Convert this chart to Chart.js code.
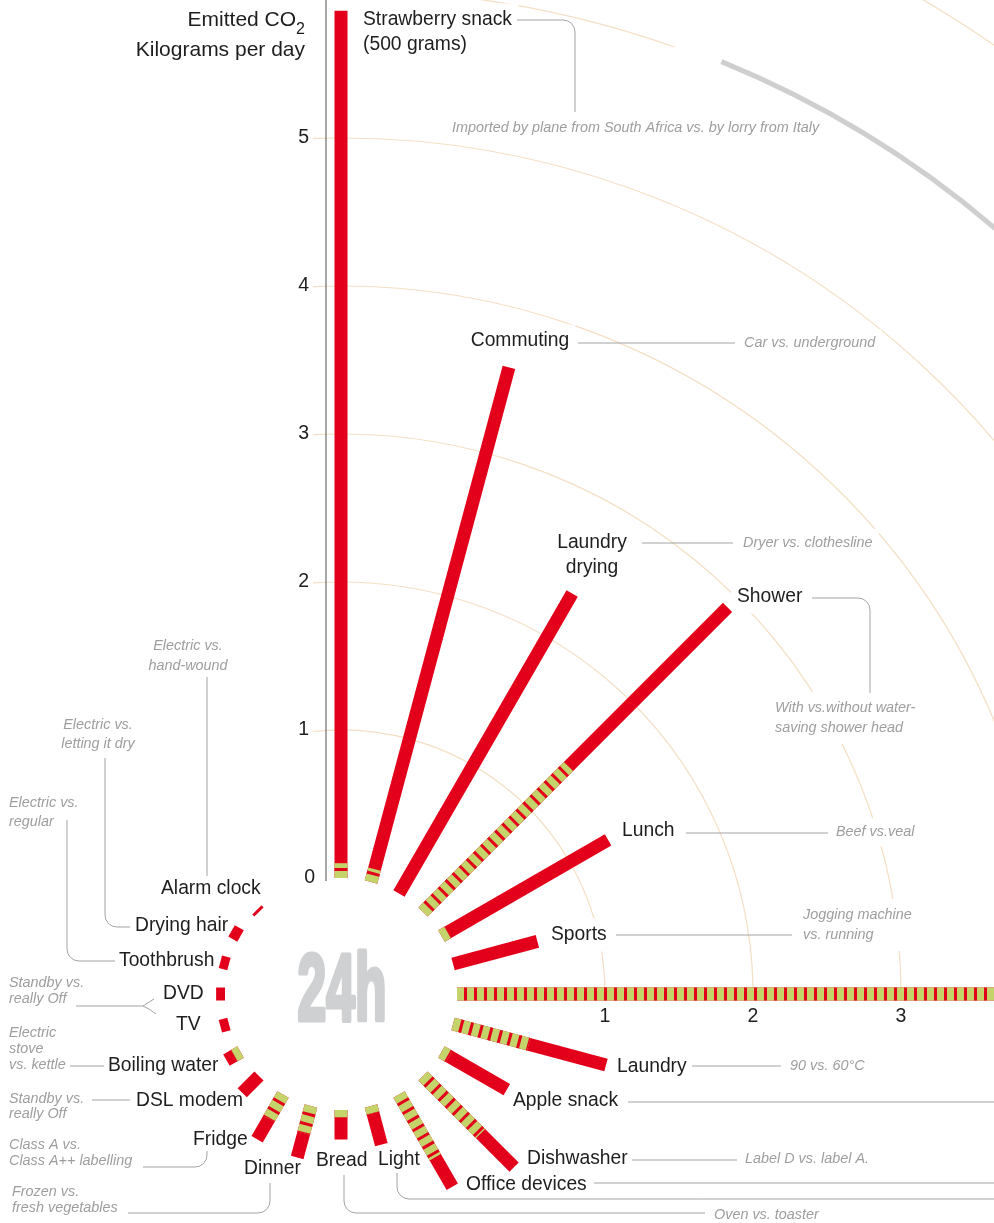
<!DOCTYPE html>
<html>
<head>
<meta charset="utf-8">
<script src="https://cdn.jsdelivr.net/npm/chart.js@4.4.0/dist/chart.umd.min.js"></script>
<style>
  html, body { margin: 0; padding: 0; background: #fff; }
  canvas { display: block; }
</style>
</head>
<body>
<canvas id="co2Chart" width="994" height="1223"></canvas>
<script>
// one spoke per hour slot (15 degrees each), clockwise from the top
const activities = ['Strawberry snack\n(500 grams)', 'Commuting', 'Laundry\ndrying', 'Shower', 'Lunch', 'Sports', '',
  'Laundry', 'Apple snack', 'Dishwasher', 'Office devices', 'Light', 'Bread', 'Dinner', 'Fridge',
  'DSL modem', 'Boiling water', 'TV', 'DVD', 'Toothbrush', 'Drying hair', 'Alarm clock'];
const hourSlots = [0, 1, 2, 3, 4, 5, 6, 7, 8, 9, 10, 11, 12, 13, 14, 15, 16, 17, 18, 19, 20, 21];
// kg CO2 per day: usual way (red) and the greener alternative (striped)
const emittedUsual = [5.86, 3.60, 2.34, 2.91, 1.30, 0.59, 4.6, 1.07, 0.51, 0.87, 0.72, 0.27, 0.20, 0.36, 0.35, 0.16, 0.11, 0.06, 0.06, 0.06, 0.07, 0.02];
const emittedGreen = [0.10, 0.09, 0, 1.39, 0.05, 0, 4.6, 0.53, 0.06, 0.55, 0.49, 0.05, 0.05, 0.19, 0.19, 0, 0.05, 0, 0, 0, 0, 0];
const yTicks = [0, 1, 2, 3, 4, 5];
const xTicks = [1, 2, 3];
const rings = [1, 2, 3, 4, 5, 6, 7];

const RED = '#e2001a';
const GREEN = '#c4d36a';
const W = 994, H = 1223;
const CX = 341, CY = 994, UNIT = 148;
const BASE = 116 / UNIT;   // empty hole in the middle, in kg units

function spokePoint(slot, v) {
  const a = slot * Math.PI / 12;
  return { x: (BASE + v) * Math.sin(a), y: (BASE + v) * Math.cos(a) };
}

const datasets = [];
activities.forEach(function (name, i) {
  const inner = spokePoint(hourSlots[i], 0);
  datasets.push({
    label: name,
    data: [inner, spokePoint(hourSlots[i], emittedUsual[i])],
    borderColor: RED, borderWidth: 13, order: 3
  });
  if (emittedGreen[i] > 0) {
    const outer = spokePoint(hourSlots[i], emittedGreen[i]);
    datasets.push({
      label: name + ' (alternative)',
      data: [inner, outer],
      borderColor: GREEN, borderWidth: 13, order: 2
    });
    datasets.push({
      label: name + ' (alternative stripes)',
      data: [inner, outer],
      borderColor: RED, borderWidth: 13, borderDash: [3, 7], borderDashOffset: 3, order: 1
    });
  }
});

// text placement (pixels) for the activity names and the comparisons
const nameSpots = [
  [363, 20, 'left'], [520, 341, 'center'], [592, 543, 'center'], [737, 597, 'left'], [622, 831, 'left'],
  [551, 935, 'left'], null, [617, 1067, 'left'], [513, 1101, 'left'], [527, 1159, 'left'],
  [466, 1185, 'left'], [378, 1160, 'left'], [316, 1161, 'left'], [244, 1169, 'left'], [193, 1140, 'left'],
  [136, 1101, 'left'], [108, 1066, 'left'], [176, 1025, 'left'], [163, 994, 'left'], [119, 961, 'left'],
  [135, 926, 'left'], [161, 889, 'left']
];
const notes = [
  { text: ['Imported by plane from South Africa vs. by lorry from Italy'], x: 452, y: 128, lh: 16, align: 'left' },
  { text: ['Car vs. underground'], x: 744, y: 343, lh: 16, align: 'left' },
  { text: ['Dryer vs. clothesline'], x: 743, y: 543, lh: 16, align: 'left' },
  { text: ['With vs.without water-', 'saving shower head'], x: 775, y: 708, lh: 20, align: 'left' },
  { text: ['Beef vs.veal'], x: 836, y: 832, lh: 16, align: 'left' },
  { text: ['Jogging machine', 'vs. running'], x: 803, y: 915, lh: 20, align: 'left' },
  { text: ['90 vs. 60°C'], x: 790, y: 1066, lh: 16, align: 'left' },
  { text: ['Label D vs. label A.'], x: 745, y: 1159, lh: 16, align: 'left' },
  { text: ['Oven vs. toaster'], x: 714, y: 1215, lh: 16, align: 'left' },
  { text: ['Frozen vs.', 'fresh vegetables'], x: 12, y: 1192, lh: 16, align: 'left' },
  { text: ['Class A vs.', 'Class A++ labelling'], x: 9, y: 1145, lh: 16, align: 'left' },
  { text: ['Standby vs.', 'really Off'], x: 9, y: 1099, lh: 15, align: 'left' },
  { text: ['Electric', 'stove', 'vs. kettle'], x: 9, y: 1033, lh: 16, align: 'left' },
  { text: ['Standby vs.', 'really Off'], x: 9, y: 983, lh: 16, align: 'left' },
  { text: ['Electric vs.', 'regular'], x: 9, y: 803, lh: 19, align: 'left' },
  { text: ['Electric vs.', 'letting it dry'], x: 98, y: 725, lh: 19, align: 'center' },
  { text: ['Electric vs.', 'hand-wound'], x: 188, y: 646, lh: 20, align: 'center' }
];
const leaders = [
  [[517, 20], [575, 20], [575, 112]],
  [[578, 343], [735, 343]],
  [[642, 543], [733, 543]],
  [[812, 598], [870, 598], [870, 693]],
  [[686, 833], [828, 833]],
  [[616, 935], [792, 935]],
  [[692, 1066], [781, 1066]],
  [[628, 1102], [994, 1102]],
  [[632, 1160], [737, 1160]],
  [[594, 1183], [994, 1183]],
  [[397, 1173], [397, 1199], [994, 1199]],
  [[344, 1175], [344, 1213], [705, 1213]],
  [[270, 1183], [270, 1213], [128, 1213]],
  [[207, 1151], [207, 1167], [143, 1167]],
  [[92, 1100], [130, 1100]],
  [[70, 1066], [104, 1066]],
  [[76, 1006], [143, 1006]],
  [[115, 961], [67, 961], [67, 820]],
  [[130, 927], [105, 927], [105, 758]],
  [[207, 876], [207, 677]]
];

const NAME_FONT = '19.3px "Liberation Sans", Arial, sans-serif';
const NOTE_FONT = 'italic 14.4px "Liberation Sans", Arial, sans-serif';

function textBox(ctx, lines, x, y, lh, align) {
  let w = 0;
  lines.forEach(function (l) { w = Math.max(w, ctx.measureText(l).width); });
  let left = x;
  if (align === 'center') left = x - w / 2;
  if (align === 'right') left = x - w;
  return { left: left, top: y - lh / 2, w: w, h: lh * lines.length };
}

const radialPlugin = {
  id: 'radialPlugin',
  beforeDatasetsDraw(chart) {
    const ctx = chart.ctx;
    const xs = chart.scales.x, ys = chart.scales.y;
    const cx = xs.getPixelForValue(0), cy = ys.getPixelForValue(0);
    const u = xs.getPixelForValue(1) - cx;
    ctx.save();
    // rings
    ctx.lineWidth = 1.2;
    ctx.strokeStyle = '#f3dfc5';
    rings.forEach(function (k) {
      const r = (BASE + k) * u;
      const start = -Math.PI / 2 - Math.asin(Math.min(1, 28 / r));
      ctx.beginPath();
      if (k === 6) {
        ctx.arc(cx, cy, r, start, -Math.PI / 2 + 19.4 * Math.PI / 180);
      } else {
        ctx.arc(cx, cy, r, start, 0);
      }
      ctx.stroke();
    });
    const r6 = (BASE + 6) * u + 3;
    ctx.beginPath();
    ctx.lineWidth = 5;
    ctx.strokeStyle = '#cfcfcf';
    ctx.arc(cx, cy, r6, -Math.PI / 2 + 22.2 * Math.PI / 180, -Math.PI / 2 + 60 * Math.PI / 180);
    ctx.stroke();

    // white knock-outs behind texts
    ctx.fillStyle = '#fff';
    ctx.font = NOTE_FONT;
    notes.forEach(function (n) {
      const b = textBox(ctx, n.text, n.x, n.y, n.lh, n.align);
      ctx.fillRect(b.left - 6, b.top - 6, b.w + 12, b.h + 12);
    });
    ctx.font = NAME_FONT;
    activities.forEach(function (name, i) {
      const s = nameSpots[i];
      if (!s || !name) return;
      const b = textBox(ctx, name.split('\n'), s[0], s[1], 25, s[2]);
      ctx.fillRect(b.left - 6, b.top - 4, b.w + 12, b.h + 8);
    });

    // leader lines
    ctx.strokeStyle = '#a3a3a3';
    ctx.lineWidth = 1;
    leaders.forEach(function (pts) {
      ctx.beginPath();
      ctx.moveTo(pts[0][0], pts[0][1]);
      for (let j = 1; j < pts.length - 1; j++) {
        ctx.arcTo(pts[j][0], pts[j][1], pts[j + 1][0], pts[j + 1][1], 12);
      }
      ctx.lineTo(pts[pts.length - 1][0], pts[pts.length - 1][1]);
      ctx.stroke();
    });
    // bracket for DVD / TV
    ctx.beginPath();
    ctx.moveTo(154, 999);
    ctx.quadraticCurveTo(149, 1002, 143, 1006);
    ctx.quadraticCurveTo(150, 1009, 156, 1014);
    ctx.stroke();

    // vertical axis
    ctx.strokeStyle = '#777';
    ctx.lineWidth = 1.3;
    ctx.beginPath();
    ctx.moveTo(326, 0);
    ctx.lineTo(326, cy - BASE * u + 3);
    ctx.stroke();
    ctx.restore();
  },
  afterDatasetsDraw(chart) {
    const ctx = chart.ctx;
    const xs = chart.scales.x, ys = chart.scales.y;
    const cx = xs.getPixelForValue(0), cy = ys.getPixelForValue(0);
    ctx.save();
    ctx.textBaseline = 'middle';

    // 24h in the middle
    ctx.save();
    ctx.font = 'bold 94px "Liberation Sans Narrow", "Liberation Sans", Arial, sans-serif';
    ctx.textBaseline = 'alphabetic';
    ctx.textAlign = 'center';
    const w24 = ctx.measureText('24h').width;
    ctx.translate(cx + 1, 1020);
    ctx.scale(89 / w24, 1);
    ctx.fillStyle = '#cfd0d2';
    ctx.strokeStyle = '#cfd0d2';
    ctx.lineWidth = 5;
    ctx.lineJoin = 'round';
    ctx.fillText('24h', 0, 0);
    ctx.strokeText('24h', 0, 0);
    ctx.restore();

    // tick labels
    ctx.fillStyle = '#1e1e1e';
    ctx.font = '19.5px "Liberation Sans", Arial, sans-serif';
    ctx.textAlign = 'right';
    yTicks.forEach(function (t) {
      const py = ys.getPixelForValue(BASE + t);
      ctx.fillText(String(t), t === 0 ? 315 : 309, py);
    });
    ctx.textAlign = 'center';
    xTicks.forEach(function (t) {
      ctx.fillText(String(t), xs.getPixelForValue(BASE + t), cy + 23);
    });

    // axis title
    ctx.font = '21px "Liberation Sans", Arial, sans-serif';
    ctx.textAlign = 'right';
    ctx.fillText('Kilograms per day', 305, 50);
    ctx.font = '16px "Liberation Sans", Arial, sans-serif';
    ctx.fillText('2', 305, 30);
    const w2 = ctx.measureText('2').width;
    ctx.font = '21px "Liberation Sans", Arial, sans-serif';
    ctx.fillText('Emitted CO', 305 - w2, 20);

    // activity names
    ctx.font = NAME_FONT;
    activities.forEach(function (name, i) {
      const s = nameSpots[i];
      if (!s || !name) return;
      ctx.textAlign = s[2];
      name.split('\n').forEach(function (line, j) {
        ctx.fillText(line, s[0], s[1] + j * 25);
      });
    });

    // comparisons
    ctx.font = NOTE_FONT;
    ctx.fillStyle = '#9e9e9e';
    notes.forEach(function (n) {
      ctx.textAlign = n.align;
      n.text.forEach(function (line, j) {
        ctx.fillText(line, n.x, n.y + j * n.lh);
      });
    });
    ctx.restore();
  }
};

new Chart(document.getElementById('co2Chart').getContext('2d'), {
  type: 'scatter',
  data: { datasets: datasets },
  options: {
    responsive: false,
    animation: false,
    events: [],
    layout: { padding: 0 },
    elements: {
      point: { radius: 0, hoverRadius: 0 },
      line: { borderCapStyle: 'butt', tension: 0, fill: false }
    },
    datasets: { scatter: { showLine: true } },
    plugins: { legend: { display: false }, tooltip: { enabled: false } },
    scales: {
      x: { type: 'linear', display: false, min: -CX / UNIT, max: (W - CX) / UNIT },
      y: { type: 'linear', display: false, min: -(H - CY) / UNIT, max: CY / UNIT }
    }
  },
  plugins: [radialPlugin]
});
</script>
</body>
</html>
